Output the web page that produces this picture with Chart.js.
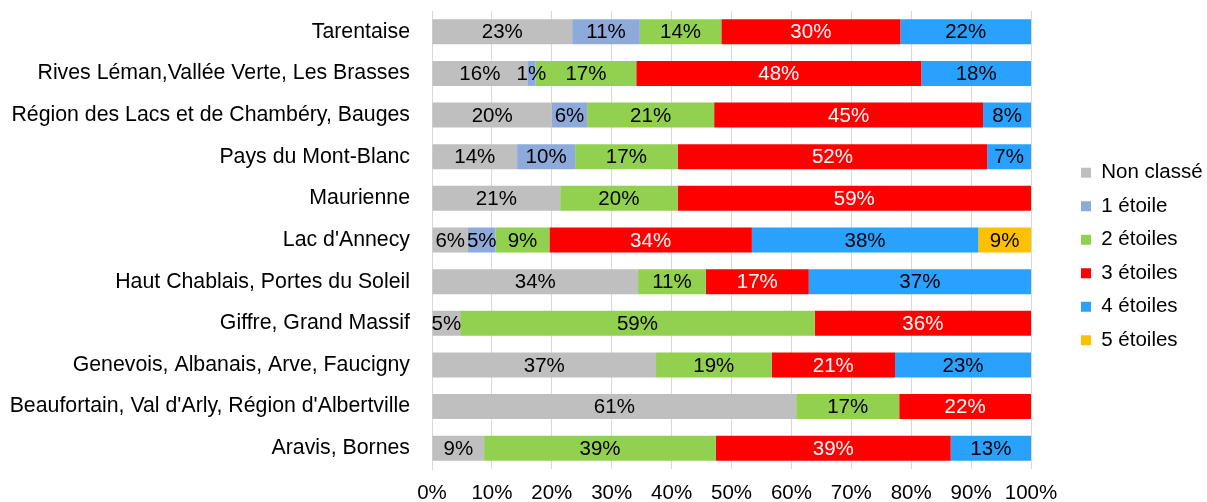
<!DOCTYPE html>
<html lang="fr">
<head>
<meta charset="utf-8">
<title>Hébergements par classement</title>
<script src="https://cdn.jsdelivr.net/npm/chart.js@4/dist/chart.umd.min.js"></script>
<style>
    html, body { margin: 0; padding: 0; background: #ffffff; }
    canvas { display: block; }
</style>
</head>
<body>
<canvas id="myChart" width="1207" height="502"></canvas>
<script>
/**
 * Territoires (de haut en bas).
 * @type {Array}
 */
const territoires = [
    'Tarentaise',
    'Rives Léman,Vallée Verte, Les Brasses',
    'Région des Lacs et de Chambéry, Bauges',
    'Pays du Mont-Blanc',
    'Maurienne',
    "Lac d'Annecy",
    'Haut Chablais, Portes du Soleil',
    'Giffre, Grand Massif',
    'Genevois, Albanais, Arve, Faucigny',
    "Beaufortain, Val d'Arly, Région d'Albertville",
    'Aravis, Bornes',
];

// Parts (%) par classement, dans l'ordre des territoires
const nonClasse     = [23.4, 15.9, 20.0, 14.2, 21.4,  6.0, 34.4,  4.7, 37.4, 60.8,  8.7];
const uneEtoile     = [11.3,  1.4,  5.9,  9.7,  0,    4.6,  0,    0,    0,    0,    0  ];
const deuxEtoiles   = [13.6, 16.8, 21.2, 17.1, 19.6,  9.0, 11.3, 59.2, 19.3, 17.2, 38.7];
const troisEtoiles  = [29.9, 47.6, 44.9, 51.7, 59.0, 33.8, 17.2, 36.1, 20.6, 22.0, 39.2];
const quatreEtoiles = [21.8, 18.3,  8.0,  7.3,  0,   37.8, 37.1,  0,   22.7,  0,   13.4];
const cinqEtoiles   = [ 0,    0,    0,    0,    0,    8.8,  0,    0,    0,    0,    0  ];

const classements = ['Non classé', '1 étoile', '2 étoiles', '3 étoiles', '4 étoiles', '5 étoiles'];
const ticksX = [0, 10, 20, 30, 40, 50, 60, 70, 80, 90, 100];

const FONT = "'Liberation Sans', Arial, sans-serif";

/**
 * Construit un dataset empilé.
 */
function serie(label, data, color, textColor)
{
    return {
        label: label,
        data: data,
        backgroundColor: color,
        borderWidth: 0,
        textColor: textColor,
    };
}

/**
 * Plugin maison : écrit le pourcentage au centre de chaque segment.
 */
const etiquettes = {
    id: 'etiquettes',
    afterDatasetsDraw(chart)
    {
        const ctx = chart.ctx;
        ctx.save();
        ctx.font = '20.5px ' + FONT;
        ctx.textAlign = 'center';
        ctx.textBaseline = 'middle';
        chart.data.datasets.forEach((ds, i) => {
            const meta = chart.getDatasetMeta(i);
            if (meta.hidden) return;
            meta.data.forEach((bar, j) => {
                const v = ds.data[j];
                if (!v) return;
                ctx.fillStyle = ds.textColor;
                ctx.fillText(Math.round(v) + '%', (bar.x + bar.base) / 2, bar.y + 1);
            });
        });
        ctx.restore();
    },
};

/**
 * Décale la légende vers la droite, loin de la zone de tracé.
 */
const legendeADroite = {
    id: 'legendeADroite',
    afterLayout(chart)
    {
        const lg = chart.legend;
        if (!lg) return;
        lg.left = chart.chartArea.right + 37;
        lg.right = lg.left + lg.width;
    },
};

const ctx = document.getElementById('myChart').getContext('2d');

const config = {
    type: 'bar',
    data: {
        labels: territoires,
        datasets: [
            serie(classements[0], nonClasse, '#bfbfbf', '#000000'),
            serie(classements[1], uneEtoile, '#8eaadb', '#000000'),
            serie(classements[2], deuxEtoiles, '#92d050', '#000000'),
            serie(classements[3], troisEtoiles, '#ff0000', '#ffffff'),
            serie(classements[4], quatreEtoiles, '#29a1ff', '#000000'),
            serie(classements[5], cinqEtoiles, '#ffc000', '#000000'),
        ],
    },
    options: {
        indexAxis: 'y',
        responsive: false,
        animation: false,
        devicePixelRatio: 1,
        categoryPercentage: 1,
        barPercentage: 0.6,
        layout: {
            padding: { top: 11, left: 0, right: 0, bottom: 0 },
        },
        plugins: {
            legend: {
                position: 'right',
                labels: {
                    color: '#000000',
                    font: { family: FONT, size: 20.5 },
                    boxWidth: 10,
                    boxHeight: 10,
                    padding: 13,
                },
            },
            tooltip: { enabled: false },
        },
        scales: {
            x: {
                stacked: true,
                min: 0,
                max: 100,
                afterBuildTicks: scale => {
                    scale.ticks = ticksX.map(v => ({ value: v }));
                },
                afterFit: scale => {
                    scale.height = 33;
                    scale.paddingRight = 176;
                },
                grid: {
                    color: '#d9d9d9',
                    lineWidth: 1,
                    drawTicks: false,
                },
                border: { display: false },
                ticks: {
                    color: '#000000',
                    font: { family: FONT, size: 20.5, lineHeight: 1 },
                    padding: 14,
                    maxRotation: 0,
                    callback: v => v + '%',
                },
            },
            y: {
                stacked: true,
                afterFit: scale => {
                    scale.width = 432;
                    scale.paddingTop = 0;
                    scale.paddingBottom = 0;
                },
                grid: { display: false, drawTicks: false },
                border: { display: true, color: '#d9d9d9', width: 1 },
                ticks: {
                    color: '#000000',
                    font: { family: FONT, size: 21.3 },
                    padding: 22,
                    autoSkip: false,
                },
            },
        },
    },
    plugins: [etiquettes, legendeADroite],
};

const myChart = new Chart(ctx, config);
</script>
</body>
</html>
